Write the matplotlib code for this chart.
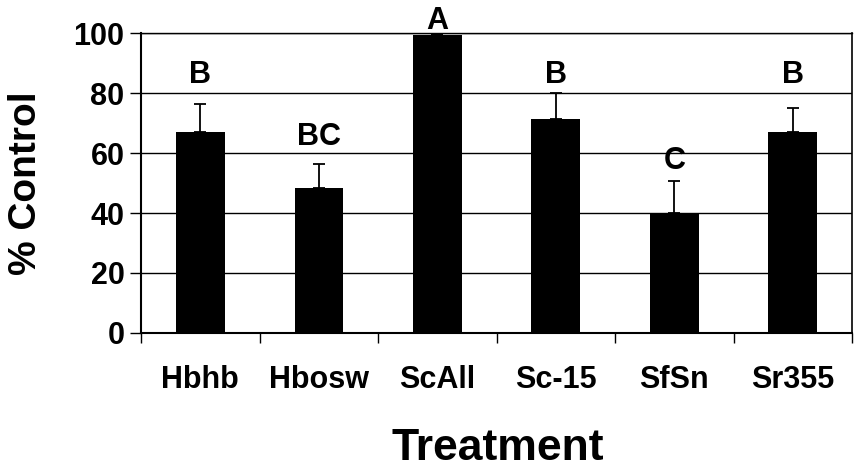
import numpy as np
import matplotlib
matplotlib.use('Agg')
import matplotlib.pyplot as plt

# dados
tratamentos = ['Hbhb', 'Hbosw', 'ScAll', 'Sc-15', 'SfSn', 'Sr355']
controle = [67, 48.3, 99.3, 71.3, 39.9, 67]
erro = [9.2, 8.2, 0, 8.6, 10.8, 8.0]
letras = ['B', 'BC', 'A', 'B', 'C', 'B']
altura_letras = [86, 65.5, 104, 86, 57.5, 86]

plt.rcParams['font.family'] = ['Liberation Sans', 'DejaVu Sans']
plt.rcParams['font.weight'] = 'bold'

fig = plt.figure(figsize=(8.55, 4.69), dpi=100)
ax = fig.add_axes([0.165, 0.29, 0.8315, 0.6396])

x = np.arange(len(tratamentos))
ax.bar(x, controle, width=0.41, color='black', zorder=3)
ax.errorbar(x, controle, yerr=[np.zeros(len(erro)), erro], fmt='none',
            ecolor='black', elinewidth=1.3, capsize=4.5, capthick=1.3, zorder=4)

for xi, letra, h in zip(x, letras, altura_letras):
    ax.text(xi, h, letra, ha='center', va='center', fontsize=22,
            fontweight='bold', clip_on=False, zorder=5)

ax.set_xlim(-0.5, len(tratamentos) - 0.5)
ax.set_ylim(0, 100)
ax.set_yticks([0, 20, 40, 60, 80, 100])
ax.yaxis.grid(True, color='black', linewidth=1.0, zorder=0)

# marcas entre as categorias, rótulos no centro
ax.set_xticks(np.arange(len(tratamentos) + 1) - 0.5)
ax.set_xticklabels([])
ax.set_xticks(x, minor=True)
ax.set_xticklabels(tratamentos, minor=True, fontsize=22, fontweight='bold')
ax.tick_params(axis='x', which='major', length=7, width=1, direction='out')
ax.tick_params(axis='x', which='minor', length=0, pad=23)
ax.tick_params(axis='y', length=8, width=1, labelsize=22, pad=4)

for lado in ['left', 'bottom']:
    ax.spines[lado].set_linewidth(1.5)
ax.spines['right'].set_linewidth(1.2)
ax.spines['top'].set_linewidth(1.0)

ax.set_ylabel('% Control', fontsize=28, fontweight='bold')
ax.yaxis.set_label_coords(-0.137, 0.5)
ax.set_xlabel('Treatment', fontsize=32, fontweight='bold')
ax.xaxis.set_label_coords(0.502, -0.318)

fig.savefig('out.png', dpi=100)
